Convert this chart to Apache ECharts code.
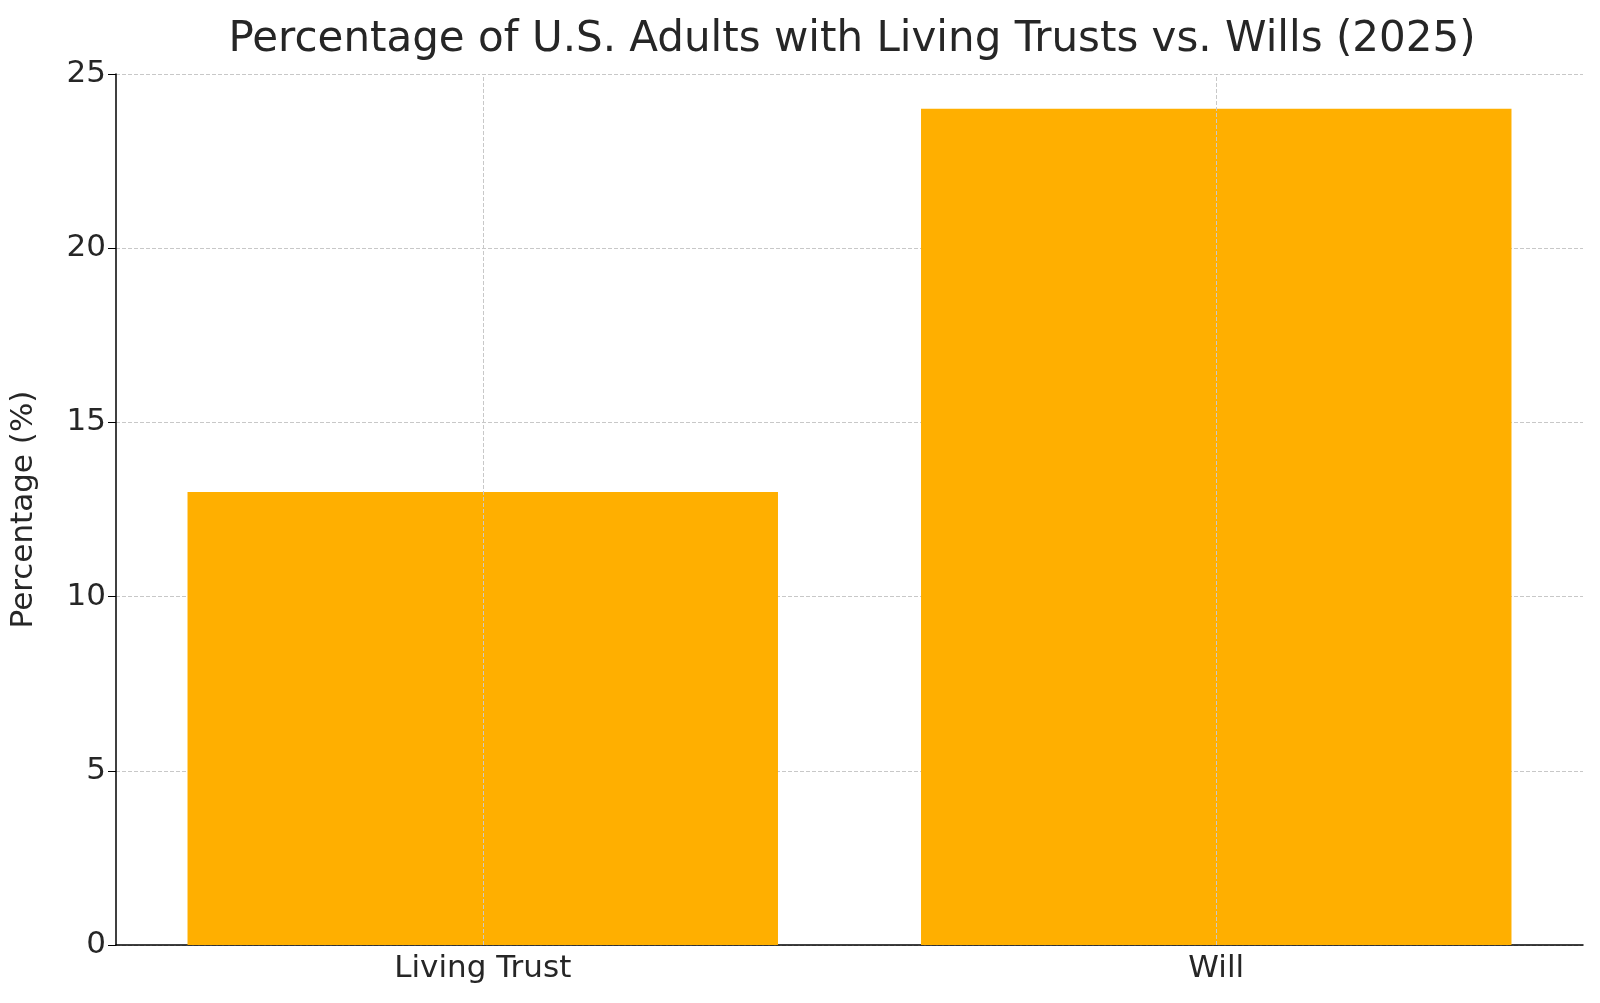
<!DOCTYPE html>
<html><head><meta charset="utf-8">
<script src="https://cdn.jsdelivr.net/npm/echarts@6/dist/echarts.min.js"></script>
<style>html,body{margin:0;padding:0;background:#fff}#c{width:1600px;height:1003px}</style>
</head><body><div id="c"></div>
<script>
const categories = ['Living Trust', 'Will'];
const values = [13, 24];
const chart = echarts.init(document.getElementById('c'));
const font = 'DejaVu Sans';
chart.setOption({
  animation: false,
  backgroundColor: '#fff',
  title: { text: 'Percentage of U.S. Adults with Living Trusts vs. Wills (2025)', left: 847, top: 14, textAlign: 'center',
    textStyle: { fontFamily: font, fontSize: 42, fontWeight: 'normal', color: '#262626' } },
  grid: { left: 110, right: 17, top: 74, bottom: 58 },
  xAxis: { type: 'category', data: categories,
    axisLine: { lineStyle: { color: '#000', width: 1.5 } },
    axisTick: { alignWithLabel: true, length: 8, lineStyle: { color: '#000' } },
    axisLabel: { fontFamily: font, fontSize: 31, color: '#262626', margin: 8 },
    splitLine: { show: false } },
  yAxis: { type: 'value', min: 0, max: 25, interval: 5, name: 'Percentage (%)', nameLocation: 'middle', nameGap: 77,
    nameTextStyle: { fontFamily: font, fontSize: 31, color: '#262626' },
    axisLine: { show: true, lineStyle: { color: '#000', width: 1.5 } },
    axisTick: { show: true, length: 8, lineStyle: { color: '#000' } },
    axisLabel: { fontFamily: font, fontSize: 31, color: '#262626', margin: 10 },
    splitLine: { lineStyle: { type: 'dashed', color: '#c8c8c8' } } },
  series: [
    { type: 'line', data: [], z: 1, silent: true,
      markLine: { symbol: 'none', silent: true, label: { show: false },
        lineStyle: { type: 'dashed', color: '#c8c8c8', width: 1 },
        data: categories.map(c => ({ xAxis: c })) } },
    { type: 'bar', data: values, barWidth: '80.5%', z: 2, itemStyle: { color: '#FFAF00' } }
  ]
});
</script></body></html>
